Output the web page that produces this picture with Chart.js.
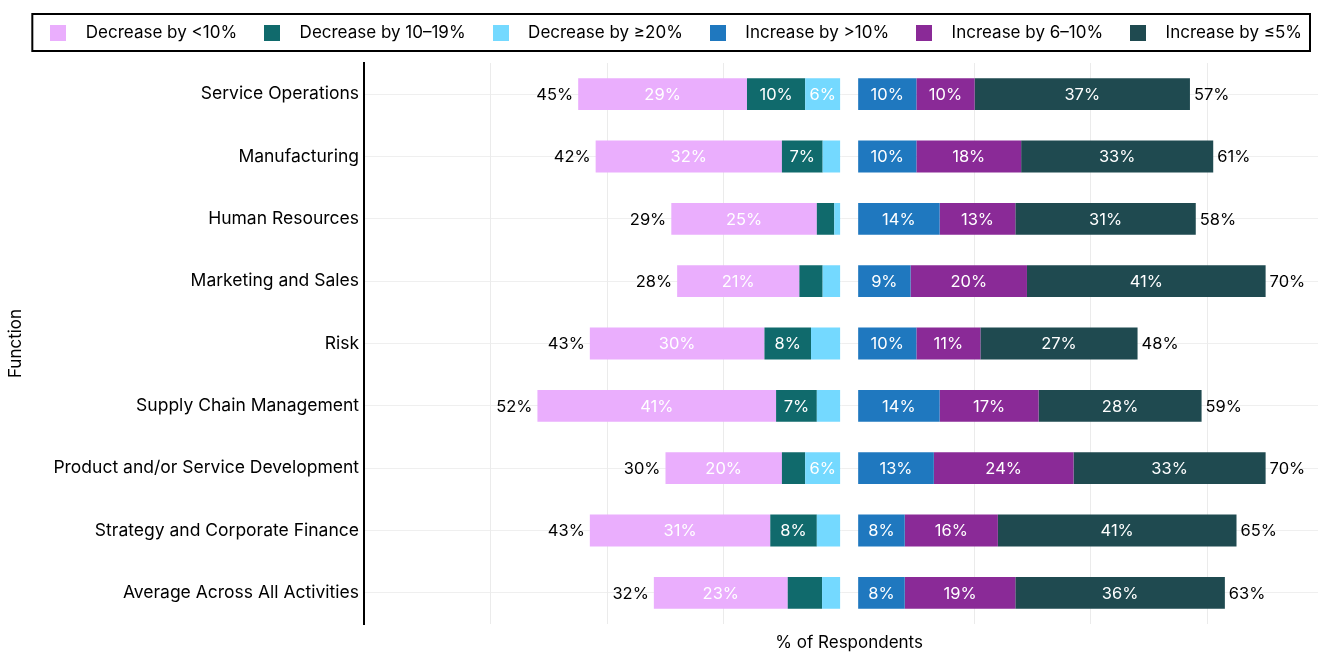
<!DOCTYPE html>
<html lang="en">
  <head>
    <meta charset="UTF-8" />
    <title>Expected change by function</title>
    <script src="https://cdn.jsdelivr.net/npm/chart.js@4.4.1/dist/chart.umd.min.js"></script>
    <style>
      body { margin: 0; background: #fff; }
      #wrap { width: 1318px; height: 653px; }
    </style>
  </head>
  <body>
    <div id="wrap"><canvas id="myChart"></canvas></div>

    <script>
      // categories, top to bottom
      const functions = [
        "Service Operations",
        "Manufacturing",
        "Human Resources",
        "Marketing and Sales",
        "Risk",
        "Supply Chain Management",
        "Product and/or Service Development",
        "Strategy and Corporate Finance",
        "Average Across All Activities",
      ];

      // % of respondents, decrease side
      const decLess10 = [29, 32, 25, 21, 30, 41, 20, 31, 23];
      const dec10to19 = [10, 7, 3, 4, 8, 7, 4, 8, 5.9];
      const decOver20 = [6, 3, 1, 3, 5, 4, 6, 4, 3.1];

      // % of respondents, increase side
      const incOver10 = [10, 10, 14, 9, 10, 14, 13, 8, 8];
      const inc6to10 = [10, 18, 13, 20, 11, 17, 24, 16, 19];
      const incUpTo5 = [37, 33, 31, 41, 27, 28, 33, 41, 36];

      const FONT = "Inter";
      Chart.defaults.font.family = FONT;
      Chart.defaults.color = "#000";

      const colors = ["#eaaefd", "#106a6c", "#74d9ff", "#1f78bf", "#8a2a97", "#1f4a50"];

      // axis bounds (left side reversed, small pad so the two panels leave a gap)
      const pad = 1.55;
      const leftMax = 81.8;
      const rightMax = 79;

      function swatch(color) {
        const c = document.createElement("canvas");
        c.width = 16;
        c.height = 16;
        const g = c.getContext("2d");
        g.fillStyle = color;
        g.fillRect(0, 0, 16, 16);
        return c;
      }

      function sum(arrs, j) {
        return Math.round(arrs.reduce((s, a) => s + a[j], 0));
      }

      const leftSeries = [decLess10, dec10to19, decOver20];
      const rightSeries = [incOver10, inc6to10, incUpTo5];

      // labels inside segments and totals at bar ends
      const barLabels = {
        id: "barLabels",
        afterDatasetsDraw(chart) {
          const ctx = chart.ctx;
          ctx.save();
          ctx.font = "16.5px " + FONT;
          ctx.textBaseline = "middle";
          chart.data.datasets.forEach((ds, i) => {
            const meta = chart.getDatasetMeta(i);
            meta.data.forEach((bar, j) => {
              const v = ds.data[j];
              if (v >= 6) {
                ctx.fillStyle = "#fff";
                ctx.textAlign = "center";
                ctx.fillText(Math.round(v) + "%", (bar.x + bar.base) / 2, bar.y + 1);
              }
            });
          });
          ctx.fillStyle = "#000";
          chart.getDatasetMeta(0).data.forEach((bar, j) => {
            ctx.textAlign = "right";
            ctx.fillText(sum(leftSeries, j) + "%", bar.x - 5, bar.y + 1);
          });
          chart.getDatasetMeta(5).data.forEach((bar, j) => {
            ctx.textAlign = "left";
            ctx.fillText(sum(rightSeries, j) + "%", bar.x + 4, bar.y + 1);
          });
          ctx.restore();
        },
      };

      // legend frame, extra room below legend, and the shared x title
      const extras = {
        id: "extras",
        beforeInit(chart) {
          const lg = chart.legend;
          const fit = lg.fit;
          lg.fit = function () {
            fit.bind(lg)();
            this.height += 12;
          };
        },
        afterDraw(chart) {
          const ctx = chart.ctx;
          const hb = chart.legend.legendHitBoxes;
          if (hb && hb.length) {
            const first = hb[0];
            const last = hb[hb.length - 1];
            const left = first.left - 7;
            const right = last.left + last.width + 8;
            const cy = first.top + first.height / 2;
            ctx.save();
            ctx.strokeStyle = "#000";
            ctx.lineWidth = 2;
            ctx.strokeRect(left, cy - 18.5, right - left, 37);
            ctx.restore();
          }
          const xl = chart.scales.xl;
          ctx.save();
          ctx.font = "17px " + FONT;
          ctx.fillStyle = "#000";
          ctx.textAlign = "center";
          ctx.textBaseline = "middle";
          ctx.fillText("% of Respondents", xl.right, chart.chartArea.bottom + 19);
          ctx.restore();
        },
      };

      const onlyTwenties = (axis) => {
        axis.ticks = axis.ticks.filter((t) => t.value % 20 === 0);
      };

      const labels = [
        "Decrease by <10%",
        "Decrease by 10–19%",
        "Decrease by ≥20%",
        "Increase by >10%",
        "Increase by 6–10%",
        "Increase by ≤5%",
      ];
      const series = [decLess10, dec10to19, decOver20, incOver10, inc6to10, incUpTo5];
      const stackOrder = [3, 2, 1, 1, 2, 3];

      const datasets = series.map((d, i) => ({
        label: labels[i],
        data: d,
        backgroundColor: colors[i],
        xAxisID: i < 3 ? "xl" : "xr",
        order: stackOrder[i],
        categoryPercentage: 1,
        barPercentage: 0.51,
      }));

      new Chart(document.getElementById("myChart"), {
        type: "bar",
        data: { labels: functions, datasets: datasets },
        options: {
          indexAxis: "y",
          responsive: true,
          maintainAspectRatio: false,
          animation: false,
          layout: { padding: { top: 8, bottom: 29, right: 0 } },
          plugins: {
            tooltip: { enabled: false },
            legend: {
              position: "top",
              align: "end",
              labels: {
                usePointStyle: true,
                pointStyleWidth: 38,
                boxHeight: 16,
                padding: 16,
                font: { size: 17 },
                color: "#000",
                sort: (a, b) => a.datasetIndex - b.datasetIndex,
                generateLabels(chart) {
                  return Chart.defaults.plugins.legend.labels
                    .generateLabels(chart)
                    .map((l) => Object.assign(l, { pointStyle: swatch(colors[l.datasetIndex]) }));
                },
              },
            },
          },
          scales: {
            y: {
              stacked: true,
              grid: { offset: false, color: "#efefef", drawTicks: false },
              border: { display: true, color: "#000", width: 2 },
              ticks: { font: { size: 17.5 }, color: "#000", padding: 5 },
              title: {
                display: true,
                text: "Function",
                font: { size: 17 },
                color: "#000",
                padding: { top: 6, bottom: 22 },
              },
            },
            xl: {
              type: "linear",
              position: "bottom",
              stack: "x",
              stackWeight: leftMax + pad,
              stacked: true,
              reverse: true,
              min: -pad,
              max: leftMax,
              afterBuildTicks: onlyTwenties,
              ticks: { display: false, stepSize: 20 },
              grid: { color: "#ebebeb", drawTicks: false },
              border: { display: false },
            },
            xr: {
              type: "linear",
              position: "bottom",
              stack: "x",
              stackWeight: rightMax + pad,
              stacked: true,
              min: -pad,
              max: rightMax,
              afterBuildTicks: onlyTwenties,
              ticks: { display: false, stepSize: 20 },
              grid: { color: "#ebebeb", drawTicks: false },
              border: { display: false },
            },
          },
        },
        plugins: [barLabels, extras],
      });
    </script>
  </body>
</html>
